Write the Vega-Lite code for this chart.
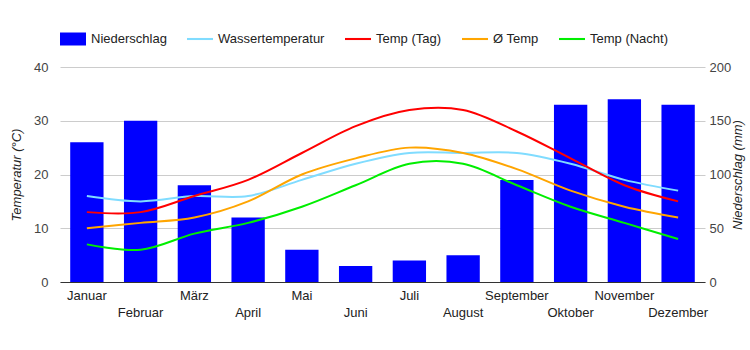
{
  "$schema": "https://vega.github.io/schema/vega-lite/v6.json",
  "width": 645,
  "height": 215,
  "autosize": {"type": "none"},
  "padding": {"left": 60, "top": 67, "right": 45, "bottom": 68},
  "config": {
    "font": "Liberation Sans",
    "view": {"stroke": null},
    "axis": {"labelFont": "Liberation Sans", "titleFont": "Liberation Sans"}
  },
  "data": {
    "values": [
      {"Monat": "Januar", "Niederschlag": 130, "Wassertemperatur": 16, "Temp (Tag)": 13, "Ø Temp": 10, "Temp (Nacht)": 7},
      {"Monat": "Februar", "Niederschlag": 150, "Wassertemperatur": 15, "Temp (Tag)": 13, "Ø Temp": 11, "Temp (Nacht)": 6},
      {"Monat": "März", "Niederschlag": 90, "Wassertemperatur": 16, "Temp (Tag)": 16, "Ø Temp": 12, "Temp (Nacht)": 9},
      {"Monat": "April", "Niederschlag": 60, "Wassertemperatur": 16, "Temp (Tag)": 19, "Ø Temp": 15, "Temp (Nacht)": 11},
      {"Monat": "Mai", "Niederschlag": 30, "Wassertemperatur": 19, "Temp (Tag)": 24, "Ø Temp": 20, "Temp (Nacht)": 14},
      {"Monat": "Juni", "Niederschlag": 15, "Wassertemperatur": 22, "Temp (Tag)": 29, "Ø Temp": 23, "Temp (Nacht)": 18},
      {"Monat": "Juli", "Niederschlag": 20, "Wassertemperatur": 24, "Temp (Tag)": 32, "Ø Temp": 25, "Temp (Nacht)": 22},
      {"Monat": "August", "Niederschlag": 25, "Wassertemperatur": 24, "Temp (Tag)": 32, "Ø Temp": 24, "Temp (Nacht)": 22},
      {"Monat": "September", "Niederschlag": 95, "Wassertemperatur": 24, "Temp (Tag)": 28, "Ø Temp": 21, "Temp (Nacht)": 18},
      {"Monat": "Oktober", "Niederschlag": 165, "Wassertemperatur": 22, "Temp (Tag)": 23, "Ø Temp": 17, "Temp (Nacht)": 14},
      {"Monat": "November", "Niederschlag": 170, "Wassertemperatur": 19, "Temp (Tag)": 18, "Ø Temp": 14, "Temp (Nacht)": 11},
      {"Monat": "Dezember", "Niederschlag": 165, "Wassertemperatur": 17, "Temp (Tag)": 15, "Ø Temp": 12, "Temp (Nacht)": 8}
    ]
  },
  "encoding": {
    "x": {
      "field": "Monat",
      "type": "nominal",
      "sort": null,
      "scale": {"paddingInner": 0.38, "paddingOuter": 0.19},
      "axis": {
        "title": null,
        "labelAngle": 0,
        "ticks": false,
        "domainColor": "#333333",
        "domainWidth": 1,
        "labelFontSize": 13,
        "labelColor": "#222222",
        "labelPadding": 7,
        "labelLineHeight": 17,
        "labelExpr": "indexof(['Januar','Februar','März','April','Mai','Juni','Juli','August','September','Oktober','November','Dezember'], datum.value) % 2 == 1 ? ['', datum.value] : datum.value"
      }
    }
  },
  "layer": [
    {
      "mark": {"type": "bar", "color": "#0000ff"},
      "encoding": {
        "y": {
          "field": "Niederschlag",
          "type": "quantitative",
          "scale": {"domain": [0, 200]},
          "axis": {
            "orient": "right",
            "title": "Niederschlag (mm)",
            "titleFontStyle": "italic",
            "titleFontWeight": "normal",
            "titleFontSize": 13,
            "titleColor": "#222222",
            "titleAngle": 270,
            "titlePadding": 14,
            "values": [0, 50, 100, 150, 200],
            "grid": false,
            "ticks": false,
            "domain": false,
            "labelFontSize": 13,
            "labelColor": "#444444",
            "labelPadding": 4
          }
        },
        "color": {
          "datum": "Niederschlag",
          "type": "nominal",
          "scale": {
            "domain": ["Niederschlag", "Wassertemperatur", "Temp (Tag)", "Ø Temp", "Temp (Nacht)"],
            "range": ["#0000ff", "#80dcff", "#ff0000", "#ffa500", "#00ee00"]
          },
          "legend": {
            "orient": "none",
            "legendX": 0,
            "legendY": -41,
            "direction": "horizontal",
            "title": null,
            "padding": 0,
            "labelFontSize": 13,
            "labelColor": "#222222",
            "symbolSize": 676,
            "symbolOpacity": 1,
            "columnPadding": 20,
            "labelOffset": 5,
            "encode": {
              "symbols": {
                "update": {
                  "shape": {"signal": "datum.value === 'Niederschlag' ? 'M-1,-0.5H1V0.5H-1Z' : 'M-1,-0.08H1V0.08H-1Z'"},
                  "fill": {"scale": "color", "field": "value"},
                  "stroke": {"value": "transparent"},
                  "strokeWidth": {"value": 0}
                }
              }
            }
          }
        }
      }
    },
    {
      "transform": [
        {"fold": ["Wassertemperatur", "Temp (Tag)", "Ø Temp", "Temp (Nacht)"], "as": ["Serie", "Wert"]}
      ],
      "mark": {"type": "line", "interpolate": "cardinal", "strokeWidth": 2},
      "encoding": {
        "y": {
          "field": "Wert",
          "type": "quantitative",
          "scale": {"domain": [0, 40]},
          "axis": {
            "orient": "left",
            "title": "Temperatur (°C)",
            "titleFontStyle": "italic",
            "titleFontWeight": "normal",
            "titleFontSize": 13,
            "titleColor": "#222222",
            "titlePadding": 10,
            "values": [0, 10, 20, 30, 40],
            "grid": true,
            "gridColor": "#cccccc",
            "ticks": false,
            "domain": false,
            "labelFontSize": 13,
            "labelColor": "#444444",
            "labelPadding": 12
          }
        },
        "color": {
          "field": "Serie",
          "type": "nominal",
          "legend": {
            "orient": "none",
            "legendX": 0,
            "legendY": -41,
            "direction": "horizontal",
            "title": null,
            "padding": 0,
            "labelFontSize": 13,
            "labelColor": "#222222",
            "symbolSize": 676,
            "symbolOpacity": 1,
            "columnPadding": 20,
            "labelOffset": 5,
            "encode": {
              "symbols": {
                "update": {
                  "shape": {"signal": "datum.value === 'Niederschlag' ? 'M-1,-0.5H1V0.5H-1Z' : 'M-1,-0.08H1V0.08H-1Z'"},
                  "fill": {"scale": "color", "field": "value"},
                  "stroke": {"value": "transparent"},
                  "strokeWidth": {"value": 0}
                }
              }
            }
          }
        }
      }
    }
  ],
  "resolve": {"scale": {"y": "independent"}}
}
